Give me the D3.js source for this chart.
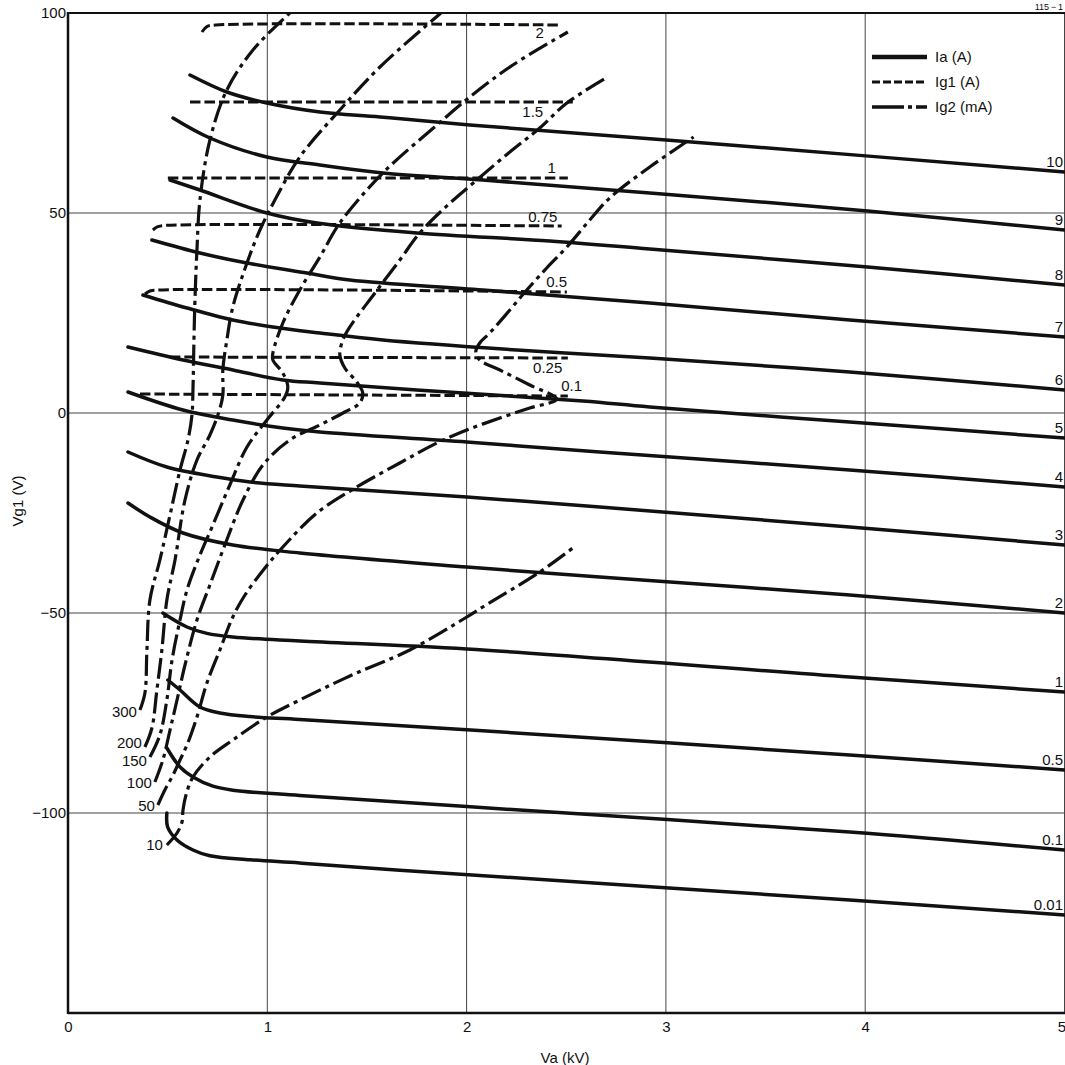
<!DOCTYPE html>
<html><head><meta charset="utf-8">
<script src="https://cdn.jsdelivr.net/npm/d3@7"></script>
<style>
html,body{margin:0;padding:0;background:#fff;}
svg{display:block;}
text{font-family:"Liberation Sans",Arial,Helvetica,sans-serif;fill:#111;}
</style></head><body>
<svg id="chart" width="1065" height="1065"></svg>
<script>
// ---------- axis ticks ----------
const xTicks = [0, 1, 2, 3, 4, 5];
const yTicks = [100, 50, 0, -50, -100];
const xGrid = [1, 2, 3, 4, 5];
const yGrid = [50, 0, -50, -100];

// ---------- Ia (A) curves : [Va kV, Vg1 V] ----------
const iaNames = ["10", "9", "8", "7", "6", "5", "4", "3", "2", "1", "0.5", "0.1", "0.01"];
const ia10 = [[0.612,84.5],[0.797,80.25],[0.998,77.5],[1.264,75.25],[1.565,74],[2.016,72],[3.32,67],[5,60.25]];
const ia9 = [[0.527,73.75],[0.712,68.75],[0.998,64],[1.264,62],[1.58,60],[2.081,58.25],[2.919,55],[4.012,50.5],[5,45.75]];
const ia8 = [[0.512,58.25],[0.662,55.75],[0.998,50],[1.249,47.5],[1.75,45],[2.417,43],[2.919,41],[4.012,36.5],[5,32]];
const ia7 = [[0.421,43.25],[0.662,40],[0.898,37.5],[1.199,35],[1.414,33.25],[2.081,30.75],[2.919,27.5],[3.922,23.25],[5,19]];
const ia6 = [[0.376,29.5],[0.597,26.25],[0.827,23.25],[1.028,21.5],[1.264,20],[1.58,18.25],[2.252,15.75],[2.919,13.75],[3.922,10.25],[5,5.75]];
const ia5 = [[0.301,16.5],[0.577,13.25],[0.827,10.75],[1.078,8.25],[1.264,7.5],[1.75,5.75],[2.583,3],[2.919,1.5],[3.922,-2.25],[5,-6.25]];
const ia4 = [[0.301,5.25],[0.577,0.75],[0.827,-1.75],[1.078,-3.75],[1.264,-4.75],[2.001,-7.25],[2.668,-9.75],[3.922,-14.25],[5,-18.5]];
const ia3 = [[0.301,-9.75],[0.496,-13.5],[0.747,-16],[0.913,-17.25],[1.163,-18.25],[2.001,-21],[2.668,-23.5],[3.922,-28.5],[5,-33]];
const ia2 = [[0.301,-22.5],[0.411,-26],[0.577,-30],[0.827,-33],[1.163,-35],[2.001,-38.5],[2.668,-41],[3.922,-45.5],[5,-50]];
const ia1 = [[0.476,-50],[0.597,-53.5],[0.697,-55.1],[0.827,-56],[1.163,-57],[2.001,-59],[3.922,-66],[5,-69.75]];
const ia05 = [[0.501,-66.75],[0.562,-69.25],[0.662,-73.5],[0.762,-75],[0.913,-75.9],[1.163,-76.6],[2.001,-79.2],[3.922,-85.5],[5,-89.25]];
const ia01 = [[0.496,-83.75],[0.562,-88.5],[0.627,-91],[0.727,-93.3],[0.827,-94.3],[1.163,-95.6],[2.001,-98.4],[3.922,-104.75],[5,-109.25]];
const ia001 = [[0.496,-100],[0.5,-103.5],[0.547,-106.75],[0.627,-109.25],[0.712,-110.7],[0.913,-111.7],[1.163,-112.5],[1.665,-114.3],[3.922,-121.75],[5,-125.5]];
const iaCurves = [ia10, ia9, ia8, ia7, ia6, ia5, ia4, ia3, ia2, ia1, ia05, ia01, ia001];

// ---------- Ig1 (A) curves ----------
const ig1Names = ["2", "1.5", "1", "0.75", "0.5", "0.25", "0.1"];
const ig1_2 = [[0.672,95.25],[0.697,96.6],[0.742,97],[2.477,97]];
const ig1_15 = [[0.612,77.75],[2.533,77.75]];
const ig1_1 = [[0.501,58.75],[2.508,58.75]];
const ig1_075 = [[0.426,45.75],[0.451,46.6],[0.49,46.9],[2.477,46.75]];
const ig1_05 = [[0.386,29.75],[0.411,30.5],[0.45,30.75],[2.503,30.25]];
const ig1_025 = [[0.511,14],[2.508,13.75]];
const ig1_01 = [[0.361,4.75],[2.508,4.25]];
const ig1Curves = [ig1_2, ig1_15, ig1_1, ig1_075, ig1_05, ig1_025, ig1_01];
const ig1LabelAt = [[2.367,93.75],[2.332,74],[2.427,60],[2.382,47.75],[2.452,31.4],[2.407,10],[2.527,5.4]];

// ---------- Ig2 (mA) curves ----------
const ig2Names = ["300", "200", "150", "100", "50", "10"];
const ig2_300 = [[0.361,-74.25],[0.386,-70],[0.396,-59.25],[0.411,-46.75],[0.461,-36.75],[0.512,-25.5],[0.562,-14.25],[0.602,-6.75],[0.622,-0.5],[0.627,5.75],[0.632,18.25],[0.637,28.25],[0.647,40.75],[0.662,53.25],[0.712,68.25],[0.797,80.75],[0.928,90.75],[1.113,100]];
const ig2_200 = [[0.386,-83.5],[0.421,-78.75],[0.446,-69.25],[0.471,-59.25],[0.496,-46.75],[0.537,-36.75],[0.587,-21.75],[0.647,-11.75],[0.712,-5.5],[0.757,0.25],[0.777,4.5],[0.777,10.75],[0.797,18.25],[0.827,26.5],[0.898,37.5],[0.963,45.75],[1.038,53.25],[1.163,64],[1.364,75.75],[1.565,86.5],[1.871,100]];
const ig2_150 = [[0.411,-86],[0.461,-80.5],[0.496,-71.75],[0.522,-61.75],[0.562,-51.75],[0.597,-44.25],[0.662,-35.5],[0.727,-28],[0.812,-18],[0.898,-8.5],[0.998,-1.75],[1.088,4],[1.103,6.5],[1.078,10],[1.028,13.25],[1.028,15],[1.078,22.5],[1.163,30.75],[1.264,39],[1.364,47.5],[1.58,60],[1.851,72],[2.016,79],[2.232,87],[2.508,95.25]];
const ig2_100 = [[0.436,-92.25],[0.476,-86.75],[0.512,-79.25],[0.547,-71.75],[0.587,-63],[0.647,-51.75],[0.712,-43],[0.787,-33],[0.878,-21.75],[0.978,-13],[1.113,-6.75],[1.264,-3],[1.389,0.25],[1.464,2.5],[1.479,5],[1.449,7.75],[1.389,11.25],[1.364,14.5],[1.379,18.25],[1.414,21.5],[1.54,30],[1.665,38.25],[1.765,45],[1.906,52],[2.051,58.25],[2.217,65.25],[2.367,71.25],[2.503,77.5],[2.708,84]];
const ig2_50 = [[0.451,-98],[0.486,-94.25],[0.527,-90.5],[0.562,-86.75],[0.597,-83],[0.647,-76],[0.697,-67.5],[0.762,-59.25],[0.827,-51],[0.888,-45.5],[0.988,-38.75],[1.078,-33.5],[1.249,-25],[1.449,-18.5],[1.665,-12.5],[1.851,-7.5],[2.001,-4.25],[2.167,-1.25],[2.317,1.25],[2.452,3.5],[2.317,7],[2.167,10.75],[2.066,13.25],[2.046,15.25],[2.066,17.5],[2.116,20],[2.217,25.75],[2.302,30.75],[2.402,36.25],[2.503,41.5],[2.618,48.25],[2.718,53.75],[2.919,61.5],[3.139,69]];
const ig2_10 = [[0.496,-108],[0.547,-105],[0.572,-102.25],[0.577,-99.25],[0.592,-95.5],[0.627,-91],[0.712,-86],[0.827,-81.75],[0.998,-76],[1.163,-71.75],[1.414,-65.75],[1.715,-59.25],[2.001,-51],[2.081,-48.5],[2.367,-39.75],[2.533,-33.75]];
const ig2Curves = [ig2_300, ig2_200, ig2_150, ig2_100, ig2_50, ig2_10];
const ig2LabelAt = [[0.346,-76],[0.371,-83.75],[0.396,-88.25],[0.421,-93.75],[0.436,-99.5],[0.476,-109.25]];

const legendNames = ["Ia (A)", "Ig1 (A)", "Ig2 (mA)"];

// ---------- drawing ----------
const svg = d3.select("#chart");
const L = 68, T = 13, R = 1064.5, B = 1013;
const x = d3.scaleLinear().domain([0, 5]).range([L, R]);
const y = d3.scaleLinear().domain([-150, 100]).range([B, T]);
const INK = "#111";

svg.append("defs").append("clipPath").attr("id", "plot")
  .append("rect").attr("x", L).attr("y", T).attr("width", R - L + 1).attr("height", B - T);

// grid
const g = svg.append("g");
g.selectAll(".vg").data(xGrid).join("line")
  .attr("x1", d => x(d)).attr("x2", d => x(d)).attr("y1", T).attr("y2", B)
  .attr("stroke", "#444").attr("stroke-width", 1);
g.selectAll(".hg").data(yGrid).join("line")
  .attr("y1", d => y(d)).attr("y2", d => y(d)).attr("x1", L).attr("x2", R)
  .attr("stroke", "#444").attr("stroke-width", 1);

// axes
const xAxis = svg.append("g").attr("transform", `translate(0,${B})`)
  .call(d3.axisBottom(x).tickValues(xTicks).tickSize(0).tickPadding(8).tickFormat(d3.format("d")));
xAxis.select(".domain").remove();
xAxis.selectAll("text").attr("font-size", 15).attr("font-family", "Liberation Sans, Arial, sans-serif").attr("fill", INK)
  .attr("text-anchor", d => d === 5 ? "end" : "middle")
  .attr("dx", d => d === 5 ? 1 : 0);

const yAxis = svg.append("g").attr("transform", `translate(${L},0)`)
  .call(d3.axisLeft(y).tickValues(yTicks).tickSize(0).tickPadding(2)
    .tickFormat(d => d < 0 ? "\u2212" + Math.abs(d) : String(d)));
yAxis.select(".domain").remove();
yAxis.selectAll("text").attr("font-size", 15).attr("font-family", "Liberation Sans, Arial, sans-serif").attr("fill", INK);

// frame
svg.append("line").attr("x1", L).attr("x2", L).attr("y1", T - 1).attr("y2", B + 1).attr("stroke", INK).attr("stroke-width", 2.5);
svg.append("line").attr("x1", L).attr("x2", R + 1).attr("y1", B).attr("y2", B).attr("stroke", INK).attr("stroke-width", 2.5);
svg.append("line").attr("x1", L).attr("x2", R + 1).attr("y1", T).attr("y2", T).attr("stroke", INK).attr("stroke-width", 2);

// titles
svg.append("text").attr("x", 565).attr("y", 1063).attr("text-anchor", "middle")
  .attr("font-size", 15).text("Va (kV)");
svg.append("text").attr("transform", "translate(23,501) rotate(-90)").attr("text-anchor", "middle")
  .attr("font-size", 15).text("Vg1 (V)");
svg.append("text").attr("x", 1063).attr("y", 10).attr("text-anchor", "end")
  .attr("font-size", 9).text("115\u2009\u2212\u20091");

const line = d3.line().x(d => x(d[0])).y(d => y(d[1])).curve(d3.curveCatmullRom.alpha(0.5));
const plot = svg.append("g").attr("clip-path", "url(#plot)");

plot.selectAll(".ia").data(iaCurves).join("path")
  .attr("d", line).attr("fill", "none").attr("stroke", INK).attr("stroke-width", 3.5)
  .attr("stroke-linecap", "round");
plot.selectAll(".ig1").data(ig1Curves).join("path")
  .attr("d", line).attr("fill", "none").attr("stroke", INK).attr("stroke-width", 3)
  .attr("stroke-dasharray", "10.5,4");
plot.selectAll(".ig2").data(ig2Curves).join("path")
  .attr("d", line).attr("fill", "none").attr("stroke", INK).attr("stroke-width", 3.2)
  .attr("stroke-dasharray", "21,5,4,5");

// labels
svg.selectAll(".ial").data(iaCurves).join("text")
  .attr("x", 1063).attr("y", d => y(d[d.length - 1][1]) - 5.5)
  .attr("text-anchor", "end").attr("font-size", 15)
  .text((d, i) => iaNames[i]);
svg.selectAll(".ig1l").data(ig1LabelAt).join("text")
  .attr("x", d => x(d[0])).attr("y", d => y(d[1]))
  .attr("text-anchor", "middle").attr("font-size", 15)
  .text((d, i) => ig1Names[i]);
svg.selectAll(".ig2l").data(ig2LabelAt).join("text")
  .attr("x", d => x(d[0])).attr("y", d => y(d[1]))
  .attr("text-anchor", "end").attr("font-size", 15)
  .text((d, i) => ig2Names[i]);

// legend
const leg = svg.append("g");
const legStyles = [
  { w: 4.5, dash: null },
  { w: 3, dash: "8,3" },
  { w: 3.4, dash: "32,4,4,4,14" }
];
legendNames.forEach((name, i) => {
  const ly = 57 + i * 25;
  leg.append("line").attr("x1", 872).attr("x2", 927).attr("y1", ly).attr("y2", ly)
    .attr("stroke", INK).attr("stroke-width", legStyles[i].w)
    .attr("stroke-dasharray", legStyles[i].dash);
  leg.append("text").attr("x", 935).attr("y", ly + 5).attr("font-size", 15).text(name);
});
</script>
</body></html>
